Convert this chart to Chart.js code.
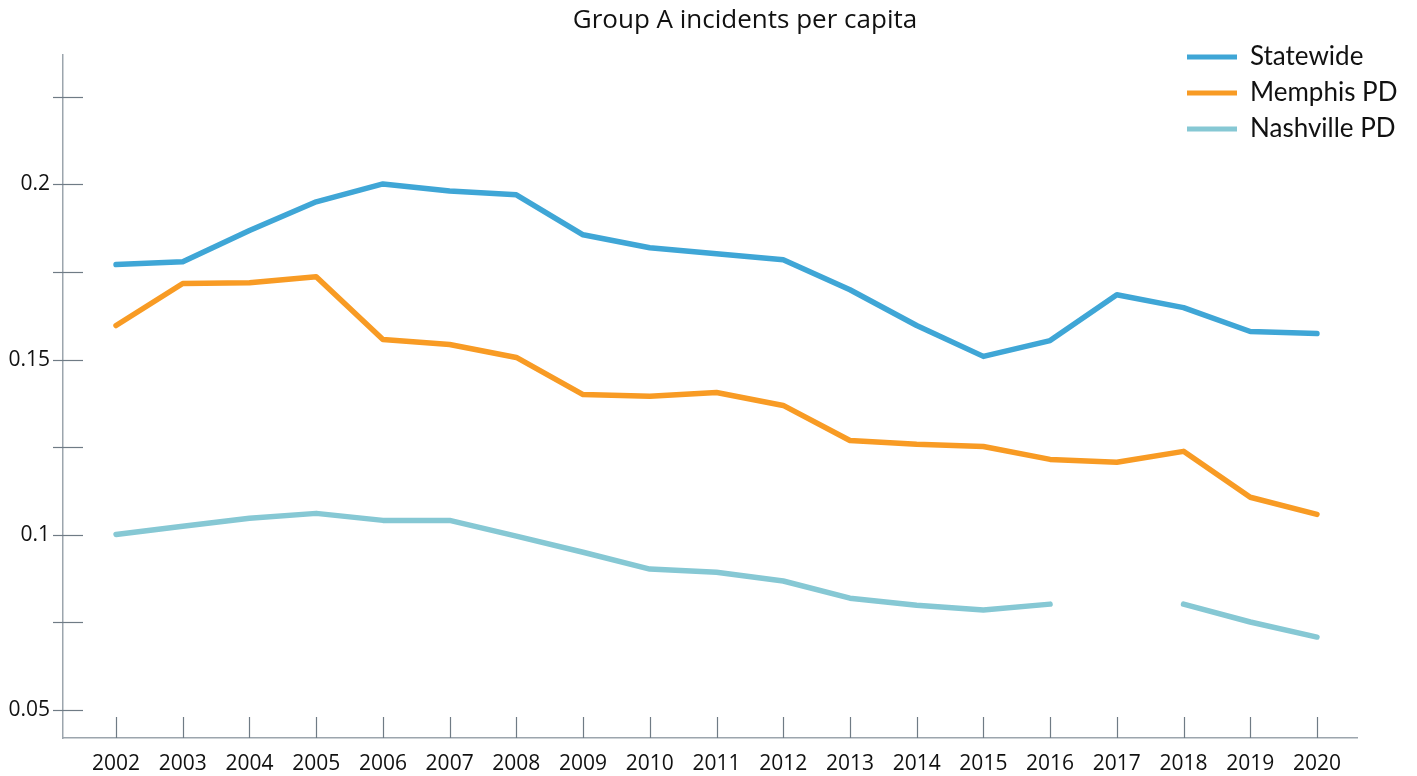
<!DOCTYPE html>
<html>
<head>
<meta charset="utf-8">
<script src="https://cdn.jsdelivr.net/npm/chart.js@4/dist/chart.umd.min.js"></script>
<style>
  html, body { margin: 0; padding: 0; background: #fff; }
  #wrap { width: 1417px; height: 776px; }
</style>
</head>
<body>
<div id="wrap"><canvas id="chart"></canvas></div>
<script>
const years = [2002, 2003, 2004, 2005, 2006, 2007, 2008, 2009, 2010, 2011,
               2012, 2013, 2014, 2015, 2016, 2017, 2018, 2019, 2020];
const statewide = [0.1771, 0.1779, 0.1868, 0.1950, 0.2001, 0.1981, 0.1970, 0.1856, 0.1819, 0.1802,
                   0.1785, 0.1699, 0.1597, 0.1509, 0.1554, 0.1685, 0.1648, 0.1580, 0.1574];
const memphis = [0.1597, 0.1717, 0.1719, 0.1736, 0.1557, 0.1543, 0.1506, 0.1400, 0.1395, 0.1406,
                 0.1369, 0.1269, 0.1258, 0.1252, 0.1215, 0.1207, 0.1238, 0.1107, 0.1058];
const nashville = [0.1001, 0.1024, 0.1047, 0.1061, 0.1041, 0.1041, 0.0996, 0.0950, 0.0902, 0.0893,
                   0.0868, 0.0819, 0.0799, 0.0785, 0.0802, null, 0.0802, 0.0751, 0.0708];
const yTicks = [0.05, 0.075, 0.1, 0.125, 0.15, 0.175, 0.2, 0.225];
const yLabeled = [0.05, 0.1, 0.15, 0.2];
const titleText = 'Group A incidents per capita';

function pts(vals) {
  return years.map((yr, i) => ({ x: yr, y: vals[i] }));
}

const axisColor = '#9ca5ad';
const tickColor = '#6f7b85';

// tick marks, title and legend drawn by hand
const decor = {
  id: 'decor',
  afterDraw(chart) {
    const ctx = chart.ctx;
    const xs = chart.scales.x, ys = chart.scales.y;
    const area = chart.chartArea;
    ctx.save();
    ctx.strokeStyle = tickColor;
    ctx.lineWidth = 1.2;
    yTicks.forEach(v => {
      const py = Math.round(ys.getPixelForValue(v)) + 0.5;
      ctx.beginPath();
      ctx.moveTo(area.left - 10, py);
      ctx.lineTo(area.left + 20, py);
      ctx.stroke();
    });
    years.forEach(yr => {
      const px = Math.round(xs.getPixelForValue(yr)) + 0.5;
      ctx.beginPath();
      ctx.moveTo(px, area.bottom);
      ctx.lineTo(px, area.bottom - 21);
      ctx.stroke();
    });

    ctx.fillStyle = '#111';
    ctx.font = '26px "Open Sans"';
    ctx.textAlign = 'center';
    ctx.textBaseline = 'middle';
    ctx.fillText(titleText, 745, 21);

    ctx.font = '26px Lato';
    ctx.textAlign = 'left';
    chart.data.datasets.forEach((ds, i) => {
      const y = 57 + i * 36;
      ctx.strokeStyle = ds.borderColor;
      ctx.lineWidth = 5;
      ctx.lineCap = 'butt';
      ctx.beginPath();
      ctx.moveTo(1187, y);
      ctx.lineTo(1237, y);
      ctx.stroke();
      ctx.fillStyle = '#111';
      ctx.fillText(ds.label, 1250, y);
    });
    ctx.restore();
  }
};

new Chart(document.getElementById('chart'), {
  type: 'line',
  data: {
    datasets: [
      { label: 'Statewide', data: pts(statewide), borderColor: '#3fa6d6' },
      { label: 'Memphis PD', data: pts(memphis), borderColor: '#f89b24' },
      { label: 'Nashville PD', data: pts(nashville), borderColor: '#86c8d4' }
    ]
  },
  options: {
    responsive: true,
    maintainAspectRatio: false,
    animation: false,
    layout: { padding: { top: 55, right: 60, left: 0, bottom: 0 } },
    elements: {
      line: { borderWidth: 5.5, borderCapStyle: 'round', borderJoinStyle: 'round', tension: 0 },
      point: { radius: 0 }
    },
    spanGaps: false,
    plugins: { legend: { display: false }, title: { display: false }, tooltip: { enabled: false } },
    scales: {
      x: {
        type: 'linear',
        min: 2001.205,
        max: 2020.6,
        afterBuildTicks: s => { s.ticks = years.map(v => ({ value: v })); },
        afterFit: s => { s.height = 38; },
        grid: { display: false, drawTicks: false },
        border: { display: true, color: axisColor, width: 1.5 },
        ticks: {
          padding: 13,
          color: '#111',
          font: { family: '"Open Sans"', size: 21 },
          maxRotation: 0,
          autoSkip: false,
          callback: v => String(v)
        }
      },
      y: {
        min: 0.042,
        max: 0.2369,
        afterBuildTicks: s => { s.ticks = yTicks.map(v => ({ value: v })); },
        afterFit: s => { s.width = 63; },
        grid: { display: false, drawTicks: false },
        border: { display: true, color: axisColor, width: 1.5 },
        ticks: {
          padding: 13,
          color: '#111',
          font: { family: '"Open Sans"', size: 21 },
          callback: v => yLabeled.some(t => Math.abs(t - v) < 1e-9) ? String(v) : ''
        }
      }
    }
  },
  plugins: [decor]
});
</script>
</body>
</html>
